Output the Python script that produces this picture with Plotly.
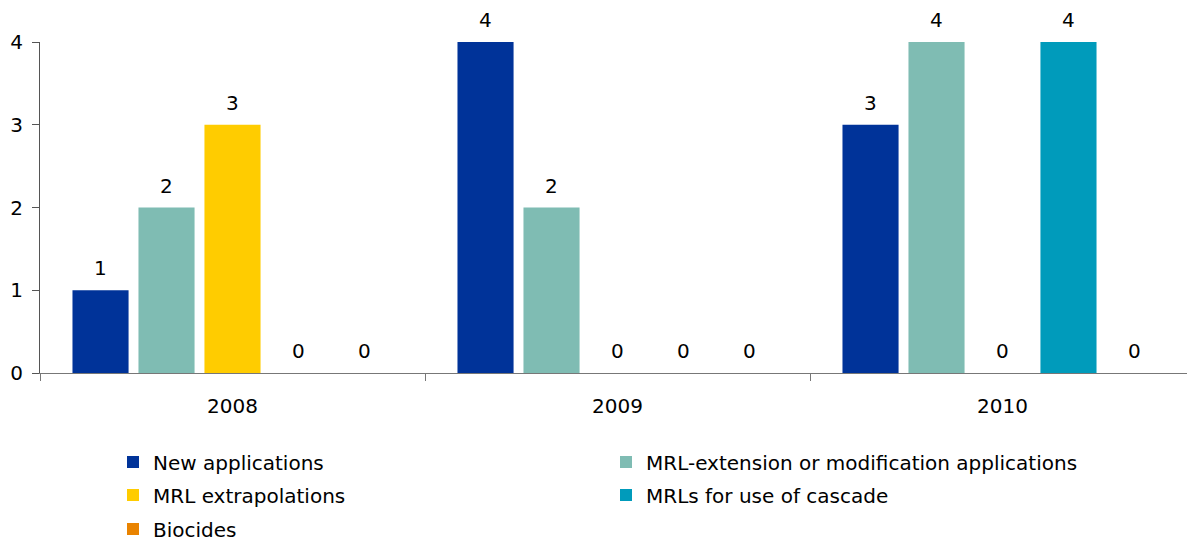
import plotly.graph_objects as go

years = ["2008", "2009", "2010"]
series_names = [
    "New applications",
    "MRL-extension or modification applications",
    "MRL extrapolations",
    "MRLs for use of cascade",
    "Biocides",
]
new_applications = [1, 4, 3]
mrl_extension = [2, 2, 4]
mrl_extrapolations = [3, 0, 0]
mrls_cascade = [0, 0, 4]
biocides = [0, 0, 0]
series_values = [new_applications, mrl_extension, mrl_extrapolations, mrls_cascade, biocides]
colors = ["#003399", "#7FBCB3", "#FFCC00", "#009BBB", "#E98300"]
y_ticks = [0, 1, 2, 3, 4]

# page offset (body margin) of 8px
OFF = 8
W, H = 1195 - OFF, 542 - OFF
PLOT_LEFT, PLOT_TOP, PLOT_BOTTOM = 40, 42, 373
ML, MR = PLOT_LEFT - OFF, 0
MT = PLOT_TOP - OFF
MB = H - (PLOT_BOTTOM - OFF)
BARGAP = 0.143
BARGROUPGAP = 0.15
FONT = "DejaVu Sans"
FS = 20

legend_ids = ["legend", "legend", "legend2", "legend2", "legend3"]

fig = go.Figure()
for name, vals, col, lg in zip(series_names, series_values, colors, legend_ids):
    fig.add_trace(go.Bar(name=name, x=years, y=vals, legend=lg,
                         marker=dict(color=col, line=dict(width=0))))

plot_w = W - ML - MR
plot_h = H - MT - MB
cat_w = plot_w / len(years)
slot = cat_w * (1 - BARGAP) / len(series_names)
n = len(series_names)
annotations = []
for i, vals in enumerate(series_values):
    for j, v in enumerate(vals):
        annotations.append(dict(
            x=j, y=v, xref="x", yref="y", text=str(v), showarrow=False,
            xshift=(i - (n - 1) / 2) * slot, yshift=22,
            font=dict(family=FONT, size=FS, color="#000000"),
        ))

def legend_cfg(row_y):
    return dict(
        orientation="h", x=(113 - PLOT_LEFT) / plot_w, xanchor="left",
        y=(PLOT_BOTTOM - row_y) / plot_h, yanchor="middle",
        entrywidth=448, entrywidthmode="pixels",
        font=dict(family=FONT, size=FS, color="#000000"),
        traceorder="normal", itemclick=False, bgcolor="rgba(0,0,0,0)",
    )

fig.update_layout(
    width=W, height=H,
    margin=dict(l=ML, r=MR, t=MT, b=MB, autoexpand=False),
    paper_bgcolor="white", plot_bgcolor="white",
    barmode="group", bargap=BARGAP, bargroupgap=BARGROUPGAP,
    font=dict(family=FONT, size=FS, color="#000000"),
    annotations=annotations,
    showlegend=True,
    legend=legend_cfg(462),
    legend2=legend_cfg(495),
    legend3=legend_cfg(529),
)
fig.update_xaxes(
    type="category", showline=True, linecolor="#777777", linewidth=1,
    ticks="outside", tickson="boundaries", ticklen=7, tickcolor="#777777",
    showgrid=False, zeroline=False, ticklabelstandoff=15,
    tickfont=dict(family=FONT, size=FS, color="#000000"),
)
fig.update_yaxes(
    range=[0, 4], tickvals=y_ticks, ticktext=[str(t) for t in y_ticks],
    showline=True, linecolor="#555555", linewidth=1,
    ticks="outside", ticklen=7, tickcolor="#555555",
    showgrid=False, zeroline=False, ticklabelstandoff=5,
    tickfont=dict(family=FONT, size=FS, color="#000000"),
)

fig.write_html("out.html")
